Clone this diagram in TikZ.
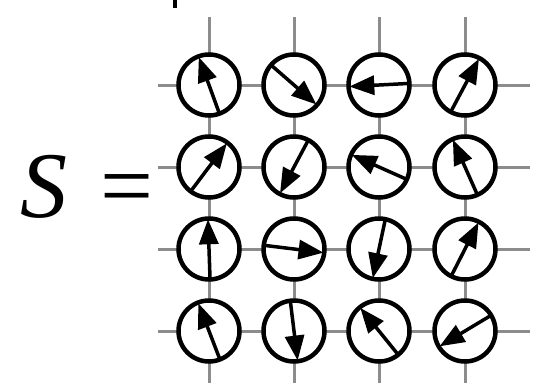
\documentclass[tikz,border=0pt]{standalone}
\usepackage{fontspec}
\setmainfont{Liberation Serif}
\usetikzlibrary{arrows.meta}
\begin{document}
\begin{tikzpicture}[x=1pt,y=-1pt,
  spin/.style={circle,draw=black,line width=4.5pt,fill=white,minimum size=61pt,inner sep=0pt},
  gridline/.style={draw=black!45,line width=3pt},
  moment/.style={line width=3.5pt,-{Triangle[length=25pt,width=19pt]},shorten >=3pt,shorten <=2.5pt}]
\useasboundingbox (0,0) rectangle (543,383);

% lattice lines
\foreach \y [count=\r] in {85,167,249,331} {
  \coordinate (hl\r) at (158,\y);
  \coordinate (hr\r) at (530,\y);
  \draw[gridline] (hl\r) -- (hr\r);
}
\foreach \x [count=\c] in {209,294,379,465} {
  \coordinate (vt\c) at (\x,17);
  \coordinate (vb\c) at (\x,383);
  \draw[gridline] (vt\c) -- (vb\c);
}

% lattice sites
\foreach \y [count=\r] in {85,167,249,331}
  \foreach \x [count=\c] in {209,294,379,465}
    \node[spin] (c\r\c) at (\x,\y) {};

% spin directions
\foreach \r/\c/\a in {1/1/110,1/2/319,1/3/183,1/4/62,
                      2/1/53,2/2/242,2/3/156,2/4/114,
                      3/1/92,3/2/353,3/3/258,3/4/63,
                      4/1/111,4/2/277,4/3/129,4/4/211} {
  \pgfmathtruncatemacro\b{mod(\a+180,360)}
  \draw[moment] (c\r\c.\b) -- (c\r\c.\a);
}

% label
\node[anchor=base west,inner sep=0pt,font=\fontsize{94}{94}\selectfont] (lbl) at (20,217) {\textit{S}\hspace{0.1em} =};

% stub at the top edge
\coordinate (st) at (175,0);
\coordinate (sb) at (175,8);
\draw[line width=4pt] (st) -- (sb);
\end{tikzpicture}
\end{document}
